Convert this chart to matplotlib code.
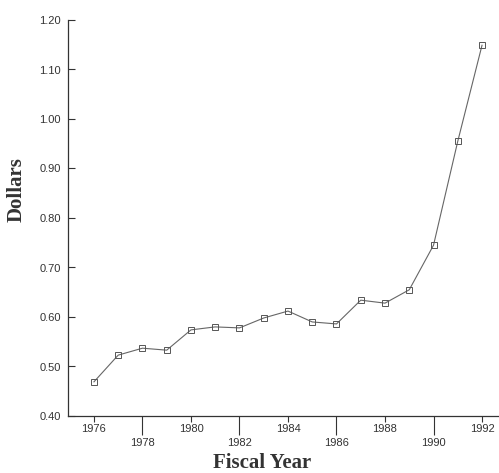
import matplotlib.pyplot as plt

# Data
years = [1976, 1977, 1978, 1979, 1980, 1981, 1982, 1983, 1984,
         1985, 1986, 1987, 1988, 1989, 1990, 1991, 1992]
dollars = [0.469, 0.523, 0.537, 0.533, 0.574, 0.580, 0.578, 0.598, 0.612,
           0.590, 0.586, 0.634, 0.628, 0.655, 0.745, 0.955, 1.149]

upper_ticks = [1976, 1980, 1984, 1988, 1992]
lower_ticks = [1978, 1982, 1986, 1990]
y_ticks = [0.40, 0.50, 0.60, 0.70, 0.80, 0.90, 1.00, 1.10, 1.20]

fig = plt.figure(figsize=(4.99, 4.73), dpi=100)
ax = fig.add_axes([68 / 499, 57 / 473, 431 / 499, 396 / 473])

ax.plot(years, dollars, color='#666666', lw=0.8, marker='s', markersize=5,
        markerfacecolor='none', markeredgecolor='#555555', markeredgewidth=0.7)

ax.set_xlim(1974.93, 1992.7)
ax.set_ylim(0.40, 1.20)

ax.spines['top'].set_visible(False)
ax.spines['right'].set_visible(False)
for s in ['left', 'bottom']:
    ax.spines[s].set_color('#333333')
    ax.spines[s].set_linewidth(0.9)

ax.set_yticks(y_ticks)
ax.set_yticklabels(['%.2f' % v for v in y_ticks])
ax.tick_params(axis='y', direction='in', length=5, width=0.8, pad=5,
               colors='#333333', labelsize=8)
for lab in ax.get_yticklabels():
    lab.set_fontfamily('Liberation Sans')

ax.set_xticks(upper_ticks)
ax.set_xticklabels([str(y) for y in upper_ticks])
ax.set_xticks(lower_ticks, minor=True)
ax.set_xticklabels([str(y) for y in lower_ticks], minor=True)
ax.tick_params(axis='x', which='major', direction='out', length=4, width=0.8,
               pad=1.5, colors='#333333', labelsize=8)
ax.tick_params(axis='x', which='minor', direction='out', length=14, width=0.8,
               pad=1.5, colors='#333333', labelsize=8)
for lab in ax.get_xticklabels() + ax.get_xticklabels(minor=True):
    lab.set_fontfamily('Liberation Sans')

ax.set_xlabel('Fiscal Year', fontfamily='Liberation Serif', fontweight='bold',
              fontsize=15, color='#333333')
ax.set_ylabel('Dollars', fontfamily='Liberation Serif', fontweight='bold',
              fontsize=15, color='#333333')
ax.xaxis.set_label_coords(0.45, -0.093)
ax.yaxis.set_label_coords(-0.097, 0.573)

fig.savefig('out.png', dpi=100)
